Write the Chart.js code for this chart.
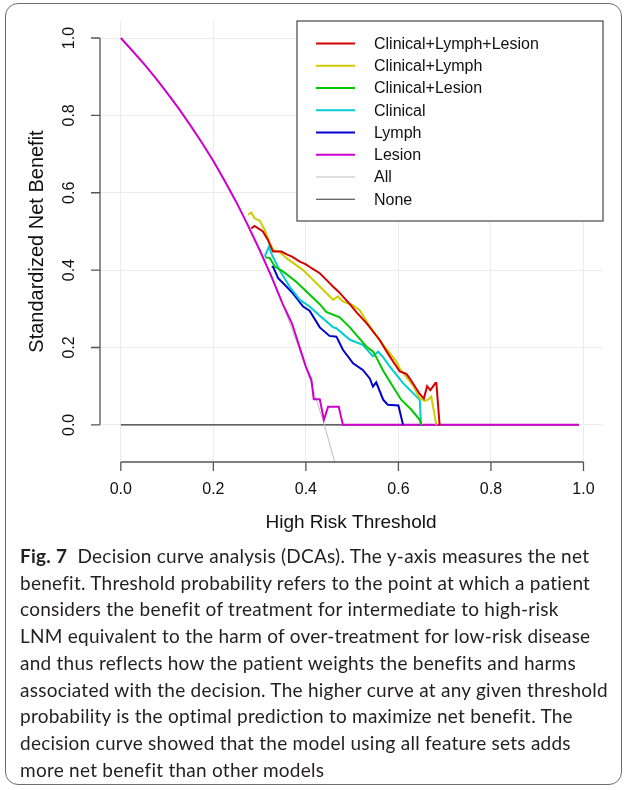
<!DOCTYPE html>
<html>
<head>
<meta charset="utf-8">
<script src="https://cdn.jsdelivr.net/npm/chart.js@4.4.1/dist/chart.umd.min.js"></script>
<style>
  html, body { margin: 0; padding: 0; background: #fff; }
  body { width: 627px; height: 790px; position: relative; overflow: hidden; }
  .frame {
    position: absolute; left: 5px; top: 3px; width: 615px; height: 780px;
    border: 1.5px solid #6e6e6e; border-radius: 13px;
  }
  #dca { position: absolute; left: 0; top: 0; }
  .caption {
    position: absolute; left: 20px; top: 543px;
    font-family: Lato, "Open Sans", sans-serif; font-size: 19px; line-height: 26.7px;
    letter-spacing: 0.25px; color: #231f20; white-space: nowrap;
  }
</style>
</head>
<body>
<div class="frame"></div>
<canvas id="dca" width="627" height="545"></canvas>
<div class="caption">
<b>Fig. 7</b>&nbsp; Decision curve analysis (DCAs). The y-axis measures the net<br>
benefit. Threshold probability refers to the point at which a patient<br>
considers the benefit of treatment for intermediate to high-risk<br>
LNM equivalent to the harm of over-treatment for low-risk disease<br>
and thus reflects how the patient weights the benefits and harms<br>
associated with the decision. The higher curve at any given threshold<br>
probability is the optimal prediction to maximize net benefit. The<br>
decision curve showed that the model using all feature sets adds<br>
more net benefit than other models
</div>
<script>
// threshold axis ticks
let xTicks = [0, 0.2, 0.4, 0.6, 0.8, 1.0];
let yTicks = [0, 0.2, 0.4, 0.6, 0.8, 1.0];

// Clinical+Lymph+Lesion
let fullX = [0.282, 0.289, 0.307, 0.318, 0.329, 0.347, 0.36, 0.37, 0.387, 0.40, 0.415, 0.43, 0.44, 0.459, 0.47, 0.495, 0.51, 0.531, 0.559, 0.581, 0.603, 0.617, 0.624, 0.646, 0.655, 0.662, 0.669, 0.680, 0.682, 0.689];
let fullY = [0.508, 0.514, 0.500, 0.478, 0.448, 0.448, 0.440, 0.435, 0.422, 0.415, 0.403, 0.392, 0.380, 0.357, 0.345, 0.312, 0.290, 0.263, 0.220, 0.177, 0.138, 0.132, 0.121, 0.080, 0.068, 0.100, 0.090, 0.108, 0.108, 0.0];

// Clinical+Lymph
let clinLymphX = [0.275, 0.282, 0.289, 0.300, 0.311, 0.322, 0.329, 0.343, 0.358, 0.394, 0.423, 0.459, 0.469, 0.480, 0.50, 0.516, 0.538, 0.567, 0.595, 0.603, 0.631, 0.646, 0.657, 0.664, 0.671, 0.682];
let clinLymphY = [0.543, 0.549, 0.534, 0.528, 0.504, 0.470, 0.452, 0.448, 0.431, 0.400, 0.366, 0.323, 0.332, 0.319, 0.310, 0.297, 0.255, 0.207, 0.165, 0.145, 0.103, 0.069, 0.062, 0.065, 0.073, 0.0];

// Clinical+Lesion
let clinLesionX = [0.312, 0.322, 0.333, 0.351, 0.379, 0.405, 0.430, 0.444, 0.473, 0.495, 0.531, 0.545, 0.552, 0.567, 0.588, 0.606, 0.628, 0.646, 0.649];
let clinLesionY = [0.433, 0.431, 0.409, 0.396, 0.370, 0.340, 0.312, 0.292, 0.278, 0.252, 0.202, 0.190, 0.175, 0.140, 0.099, 0.065, 0.039, 0.013, 0.0];

// Clinical
let clinicalX = [0.311, 0.320, 0.325, 0.343, 0.365, 0.387, 0.408, 0.430, 0.459, 0.466, 0.495, 0.523, 0.545, 0.556, 0.567, 0.581, 0.610, 0.639, 0.646, 0.649];
let clinicalY = [0.435, 0.461, 0.444, 0.400, 0.357, 0.323, 0.306, 0.282, 0.252, 0.250, 0.220, 0.207, 0.177, 0.189, 0.175, 0.151, 0.108, 0.073, 0.065, 0.0];

// Lymph
let lymphX = [0.326, 0.329, 0.340, 0.351, 0.372, 0.394, 0.408, 0.430, 0.451, 0.466, 0.480, 0.502, 0.523, 0.538, 0.545, 0.552, 0.567, 0.577, 0.600, 0.610];
let lymphY = [0.409, 0.409, 0.379, 0.366, 0.340, 0.306, 0.295, 0.252, 0.230, 0.228, 0.194, 0.159, 0.142, 0.120, 0.099, 0.110, 0.065, 0.052, 0.050, 0.0];

// Lesion
let lesionX = [0, 0.025, 0.05, 0.075, 0.10, 0.125, 0.15, 0.175, 0.20, 0.225, 0.25, 0.275, 0.30, 0.325, 0.35, 0.37, 0.40, 0.412, 0.417, 0.430, 0.439, 0.448, 0.471, 0.480, 0.99];
let lesionY = [1.0, 0.967, 0.933, 0.897, 0.858, 0.818, 0.775, 0.730, 0.682, 0.630, 0.575, 0.515, 0.452, 0.385, 0.312, 0.262, 0.150, 0.116, 0.066, 0.066, 0.013, 0.047, 0.047, 0.0, 0.0];

// All / None
let allX = [0, 0.05, 0.10, 0.15, 0.20, 0.25, 0.30, 0.35, 0.40, 0.44, 0.47, 0.50];
let allY = [1.0, 0.933, 0.858, 0.775, 0.682, 0.575, 0.452, 0.312, 0.150, 0.0, -0.13, -0.27];
let noneX = [0, 0.99];
let noneY = [0, 0];

let seriesNames = ['Clinical+Lymph+Lesion', 'Clinical+Lymph', 'Clinical+Lesion', 'Clinical', 'Lymph', 'Lesion', 'All', 'None'];
let seriesColors = ['#d40000', '#cdcd00', '#00c800', '#00cdcd', '#0000cd', '#cd00cd', '#bdbdbd', '#333333'];
let seriesWidths = [2, 2, 2, 2, 2, 2, 1, 1.2];

let toPoints = (xs, ys) => xs.map((x, i) => ({ x: x, y: ys[i] }));

let seriesData = [
  toPoints(fullX, fullY),
  toPoints(clinLymphX, clinLymphY),
  toPoints(clinLesionX, clinLesionY),
  toPoints(clinicalX, clinicalY),
  toPoints(lymphX, lymphY),
  toPoints(lesionX, lesionY),
  toPoints(allX, allY),
  toPoints(noneX, noneY),
];

let font = '"Liberation Sans", Arial, sans-serif';

// R style detached axes
let rAxes = {
  id: 'rAxes',
  afterDraw(chart) {
    let { ctx, chartArea, scales: { x, y } } = chart;
    ctx.save();
    ctx.strokeStyle = '#555';
    ctx.lineWidth = 1.3;
    ctx.fillStyle = '#111';

    let xb = chartArea.bottom;
    ctx.beginPath();
    ctx.moveTo(x.getPixelForValue(xTicks[0]), xb);
    ctx.lineTo(x.getPixelForValue(xTicks[xTicks.length - 1]), xb);
    xTicks.forEach((t) => {
      let px = x.getPixelForValue(t);
      ctx.moveTo(px, xb);
      ctx.lineTo(px, xb + 9);
    });
    let yl = chartArea.left;
    ctx.moveTo(yl, y.getPixelForValue(yTicks[0]));
    ctx.lineTo(yl, y.getPixelForValue(yTicks[yTicks.length - 1]));
    yTicks.forEach((t) => {
      let py = y.getPixelForValue(t);
      ctx.moveTo(yl, py);
      ctx.lineTo(yl - 9, py);
    });
    ctx.stroke();

    ctx.font = '16px ' + font;
    ctx.textAlign = 'center';
    ctx.textBaseline = 'middle';
    xTicks.forEach((t) => {
      ctx.fillText(t.toFixed(1), x.getPixelForValue(t), xb + 28);
    });
    yTicks.forEach((t) => {
      ctx.save();
      ctx.translate(yl - 30, y.getPixelForValue(t));
      ctx.rotate(-Math.PI / 2);
      ctx.fillText(t.toFixed(1), 0, 0);
      ctx.restore();
    });

    ctx.font = '19px ' + font;
    ctx.fillText('High Risk Threshold', (chartArea.left + chartArea.right) / 2, xb + 61);
    ctx.save();
    ctx.font = '20px ' + font;
    ctx.translate(yl - 63, (chartArea.top + chartArea.bottom) / 2);
    ctx.rotate(-Math.PI / 2);
    ctx.fillText('Standardized Net Benefit', 0, 0);
    ctx.restore();
    ctx.restore();
  },
};

// R style boxed legend in the top right corner
let rLegend = {
  id: 'rLegend',
  afterDraw(chart) {
    let { ctx, chartArea } = chart;
    let right = chartArea.right + 1;
    let top = chartArea.top;
    let left = right - 306;
    ctx.save();
    ctx.fillStyle = '#fff';
    ctx.fillRect(left, top, 306, 200);
    ctx.strokeStyle = '#555';
    ctx.lineWidth = 1.3;
    ctx.strokeRect(left, top, 306, 200);
    ctx.font = '16px ' + font;
    ctx.textBaseline = 'middle';
    ctx.textAlign = 'left';
    chart.data.datasets.forEach((ds, i) => {
      let rowY = top + 22.5 + i * 22.25;
      ctx.strokeStyle = ds.borderColor;
      ctx.lineWidth = ds.borderWidth;
      ctx.beginPath();
      ctx.moveTo(left + 19, rowY);
      ctx.lineTo(left + 58, rowY);
      ctx.stroke();
      ctx.fillStyle = '#111';
      ctx.fillText(ds.label, left + 77, rowY + 1);
    });
    ctx.restore();
  },
};

let ctx = document.getElementById('dca').getContext('2d');

new Chart(ctx, {
  type: 'line',
  data: {
    datasets: seriesNames.map((name, i) => ({
      label: name,
      data: seriesData[i],
      borderColor: seriesColors[i],
      borderWidth: seriesWidths[i],
      pointRadius: 0,
      tension: 0,
      fill: false,
      clip: 0,
    })),
  },
  options: {
    responsive: false,
    animation: false,
    devicePixelRatio: 1,
    layout: { padding: { top: 21, right: 25, left: 0, bottom: 0 } },
    plugins: {
      legend: { display: false },
      tooltip: { enabled: false },
      title: { display: false },
    },
    scales: {
      x: {
        type: 'linear',
        min: -0.045,
        max: 1.04,
        afterBuildTicks: (s) => { s.ticks = xTicks.map((v) => ({ value: v })); },
        afterFit: (s) => { s.height = 83; },
        ticks: { display: false },
        border: { display: false },
        grid: { color: '#ececec', lineWidth: 1, drawTicks: false },
      },
      y: {
        type: 'linear',
        min: -0.096,
        max: 1.044,
        afterBuildTicks: (s) => { s.ticks = yTicks.map((v) => ({ value: v })); },
        afterFit: (s) => { s.width = 100; },
        ticks: { display: false },
        border: { display: false },
        grid: { color: '#ececec', lineWidth: 1, drawTicks: false },
      },
    },
  },
  plugins: [rAxes, rLegend],
});
</script>
</body>
</html>
